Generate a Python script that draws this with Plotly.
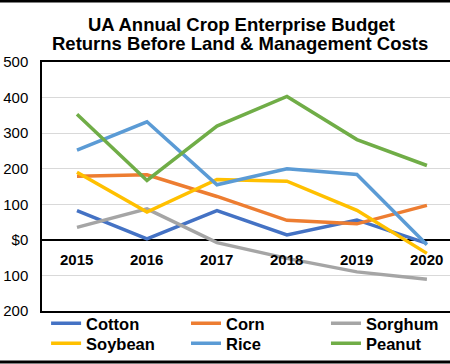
import plotly.graph_objects as go

years = ["2015", "2016", "2017", "2018", "2019", "2020"]
cotton = [82, 3, 82, 14, 56, -10]
corn = [179, 183, 122, 55, 45, 97]
sorghum = [35, 87, -8, -52, -90, -111]
soybean = [190, 78, 170, 165, 83, -38]
rice = [252, 332, 155, 200, 184, -14]
peanut = [353, 167, 320, 403, 282, 209]

series_names = ["Cotton", "Corn", "Sorghum", "Soybean", "Rice", "Peanut"]
series_values = [cotton, corn, sorghum, soybean, rice, peanut]
colors = ["#4472C4", "#ED7D31", "#A5A5A5", "#FFC000", "#5B9BD5", "#70AD47"]

ytick_vals = [500, 400, 300, 200, 100, 0, -100, -200]
ytick_text = ["500", "400", "300", "200", "100", "$0", "100", "200"]
title_lines = ["UA Annual Crop Enterprise Budget", "Returns Before Land & Management Costs"]

FONT = "Liberation Sans, Arial, sans-serif"

fig = go.Figure()
for k, (name, vals, c) in enumerate(zip(series_names, series_values, colors)):
    fig.add_trace(go.Scatter(
        x=list(range(len(years))), y=vals, name="<b>%s</b>" % name, mode="lines",
        line=dict(color=c, width=3.5),
        legend="legend" if k == 0 else "legend%d" % (k + 1),
    ))

for i, yr in enumerate(years):
    fig.add_annotation(x=i, y=0, text="<b>%s</b>" % yr, showarrow=False,
                       xref="x", yref="y", yanchor="top", yshift=-9,
                       font=dict(size=15, color="black", family=FONT))

# title as two lines (tight line spacing like the original)
fig.add_annotation(x=0.490, y=1.1526, xref="paper", yref="paper", showarrow=False,
                   text="<b>%s</b>" % title_lines[0], xanchor="center", yanchor="middle",
                   font=dict(size=18.5, color="black", family=FONT))
fig.add_annotation(x=0.485, y=1.0723, xref="paper", yref="paper", showarrow=False,
                   text="<b>%s</b>" % title_lines[1], xanchor="center", yanchor="middle",
                   font=dict(size=18.5, color="black", family=FONT))

leg_common = dict(orientation="v", xanchor="left", yanchor="top",
                  font=dict(size=16.5, color="black", family=FONT),
                  itemwidth=30, tracegroupgap=0, bgcolor="rgba(0,0,0,0)")
col_x = [0.010, 0.353, 0.696]
row_y = [0.020, 0.020 - 20 / 249]
legends = {}
for k in range(6):
    key = "legend" if k == 0 else "legend%d" % (k + 1)
    legends[key] = dict(x=col_x[k % 3], y=row_y[k // 3], **leg_common)

fig.update_layout(
    width=450, height=364,
    margin=dict(l=42, r=0, t=62, b=53, autoexpand=False),
    paper_bgcolor="white", plot_bgcolor="white",
    font=dict(family=FONT, color="black"),
    showlegend=True,
    xaxis=dict(range=[-0.5, 5.33], showticklabels=False, showgrid=False,
               zeroline=False, showline=True, linecolor="black", linewidth=1.5,
               mirror=True, fixedrange=True),
    yaxis=dict(range=[-200, 500], tickvals=ytick_vals, ticktext=ytick_text,
               showgrid=True, gridcolor="#d9d9d9", gridwidth=1.2,
               zeroline=True, zerolinecolor="black", zerolinewidth=1.5,
               showline=True, linecolor="black", linewidth=1.5, mirror=True,
               ticks="", tickfont=dict(size=15, color="black", family=FONT),
               ticklabelstandoff=9),
    **legends,
)

# outer image border (top and bottom)
fig.add_shape(type="line", xref="paper", yref="paper", x0=-0.2, x1=1.2,
              y0=1 + 61/249, y1=1 + 61/249, line=dict(color="black", width=3))
fig.add_shape(type="line", xref="paper", yref="paper", x0=-0.2, x1=1.2,
              y0=-51/249, y1=-51/249, line=dict(color="black", width=3))

fig.write_html("out.html", config={"displayModeBar": False},
               post_script="document.body.style.margin='0';")
